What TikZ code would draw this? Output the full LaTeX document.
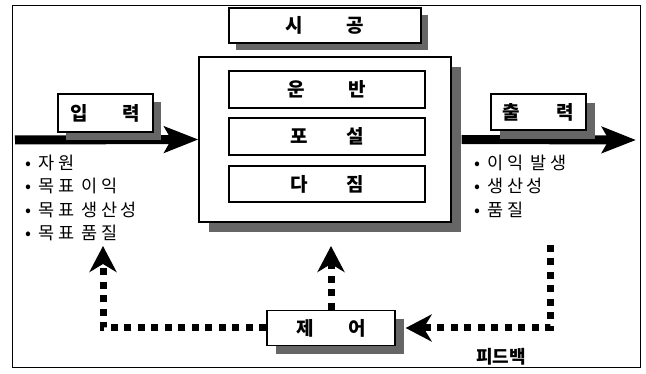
\documentclass[tikz,border=0pt]{standalone}
\usepackage{fontspec}
\setmainfont{Noto Sans CJK KR}
\usetikzlibrary{arrows.meta}
\usetikzlibrary{shadows}

\begin{document}
\begin{tikzpicture}[x=1pt,y=-1pt,>=Stealth,
    box/.style={draw,fill=white,line width=1.3pt,inner sep=0pt,font=\fontsize{19}{22}\selectfont\bfseries},
    shade/.style={drop shadow={shadow xshift=#1,shadow yshift=-#1,fill=black!60,opacity=1}},
    bigarrow/.style={line width=9pt,-{Stealth[length=34pt,width=26pt,inset=7pt]}},
    fbarrow/.style={line width=7pt,dash pattern=on 7pt off 6.5pt,-{Stealth[length=26pt,width=27pt,inset=8pt]}},
    list/.style={align=left,anchor=north west,inner sep=0pt,font=\fontsize{17.5}{23.2}\selectfont\addfontfeature{LetterSpace=20}}]
        \useasboundingbox (0,0) rectangle (646,374);
        \draw [line width=1pt] (12,6) rectangle (640,368);
        % construction block
        \node [box,shade=10pt,minimum width=252,minimum height=165] (main) at (325,139.5) {};
        \node [box,minimum width=196,minimum height=37] (unban) at (327,89.5) {운\hspace{2.3em}반};
        \node [box,minimum width=196,minimum height=37] (poseol) at (327,136.5) {포\hspace{2em}설};
        \node [box,minimum width=196,minimum height=36] (dajim) at (327,184) {다\hspace{2em}짐};
        \node [box,shade=7pt,minimum width=192,minimum height=35] (sigong) at (325,25.5) {시\hspace{2.3em}공};
        % input and output
        \coordinate (instart) at (15,140);
        \coordinate (outend) at (636,140);
        \draw [bigarrow] (instart) -- (main.west);
        \draw [bigarrow] ([xshift=10pt]main.east) -- (outend);
        \node [box,shade=8pt,minimum width=95,minimum height=38] (inp) at (105.5,113) {입\hspace{1.8em}력};
        \node [box,shade=9pt,minimum width=95,minimum height=36] (outp) at (538.5,112) {출\hspace{1.9em}력};
        \node [list] (inlist) at (25,155) {•\ 자원\\•\ 목표 이익\\•\ 목표 생산성\\•\ 목표 품질};
        \node [list] (outlist) at (474,155) {•\ 이익 발생\\•\ 생산성\\•\ 품질};
        % control loop
        \node [box,shade=9pt,minimum width=128,minimum height=35] (jeeo) at (331,328) {제\hspace{1.8em}어};
        \coordinate (tipl) at (103,246);
        \coordinate (fbtop) at (550,245);
        \draw [fbarrow] (jeeo.west) -| (tipl);
        \draw [fbarrow] (jeeo.north) -- (jeeo.north |- tipl);
        \draw [fbarrow,shorten >=10pt] (fbtop) |- (jeeo.east);
        \node [font=\fontsize{18}{20}\selectfont\bfseries] (fb) at (501,357) {피드백};
    \end{tikzpicture}
\end{document}
